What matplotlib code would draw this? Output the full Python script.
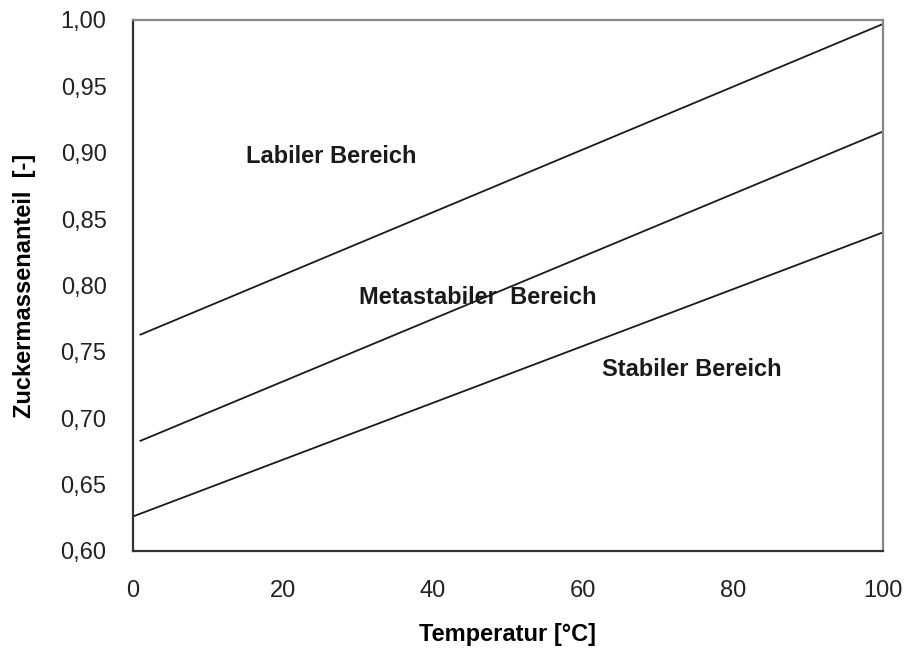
import matplotlib.pyplot as plt

# data
temp_upper = [1, 100]
frac_upper = [0.763, 0.997]
temp_middle = [1, 100]
frac_middle = [0.683, 0.916]
temp_lower = [0, 100]
frac_lower = [0.626, 0.840]

x_ticks = [0, 20, 40, 60, 80, 100]
y_ticks = [0.60, 0.65, 0.70, 0.75, 0.80, 0.85, 0.90, 0.95, 1.00]
y_tick_labels = ['0,60', '0,65', '0,70', '0,75', '0,80', '0,85', '0,90', '0,95', '1,00']

region_labels = ['Labiler Bereich', 'Metastabiler  Bereich', 'Stabiler Bereich']
region_x = [26.5, 46, 74.5]
region_y = [0.897, 0.791, 0.737]

plt.rcParams['font.family'] = ['Liberation Sans', 'DejaVu Sans']

fig = plt.figure(figsize=(9.06, 6.62), dpi=100)
ax = fig.add_axes([0.1468, 0.1677, 0.8278, 0.8021])

for xs, ys in [(temp_upper, frac_upper), (temp_middle, frac_middle), (temp_lower, frac_lower)]:
    ax.plot(xs, ys, color='#1a1a1a', lw=1.3)

for lbl, x, y in zip(region_labels, region_x, region_y):
    ax.text(x, y, lbl, ha='center', va='center', fontsize=17, fontweight='bold',
            color='#1a1a1a')

ax.set_xlim(0, 100)
ax.set_ylim(0.60, 1.00)
ax.set_xticks(x_ticks)
ax.set_xticklabels([str(t) for t in x_ticks])
ax.set_yticks(y_ticks)
ax.set_yticklabels(y_tick_labels)
ax.tick_params(length=0, labelsize=17, colors='#222222')
ax.tick_params(axis='x', pad=21)
ax.tick_params(axis='y', pad=19)

for side in ['left', 'bottom']:
    ax.spines[side].set_color('#333333')
    ax.spines[side].set_linewidth(1.6)
for side in ['top', 'right']:
    ax.spines[side].set_color('#888888')
    ax.spines[side].set_linewidth(1.6)

ax.set_xlabel('Temperatur [°C]', fontsize=17, fontweight='bold', labelpad=15)
ax.set_ylabel('Zuckermassenanteil  [-]', fontsize=17, fontweight='bold', labelpad=18)

fig.savefig('out.png', dpi=100, facecolor='white')
